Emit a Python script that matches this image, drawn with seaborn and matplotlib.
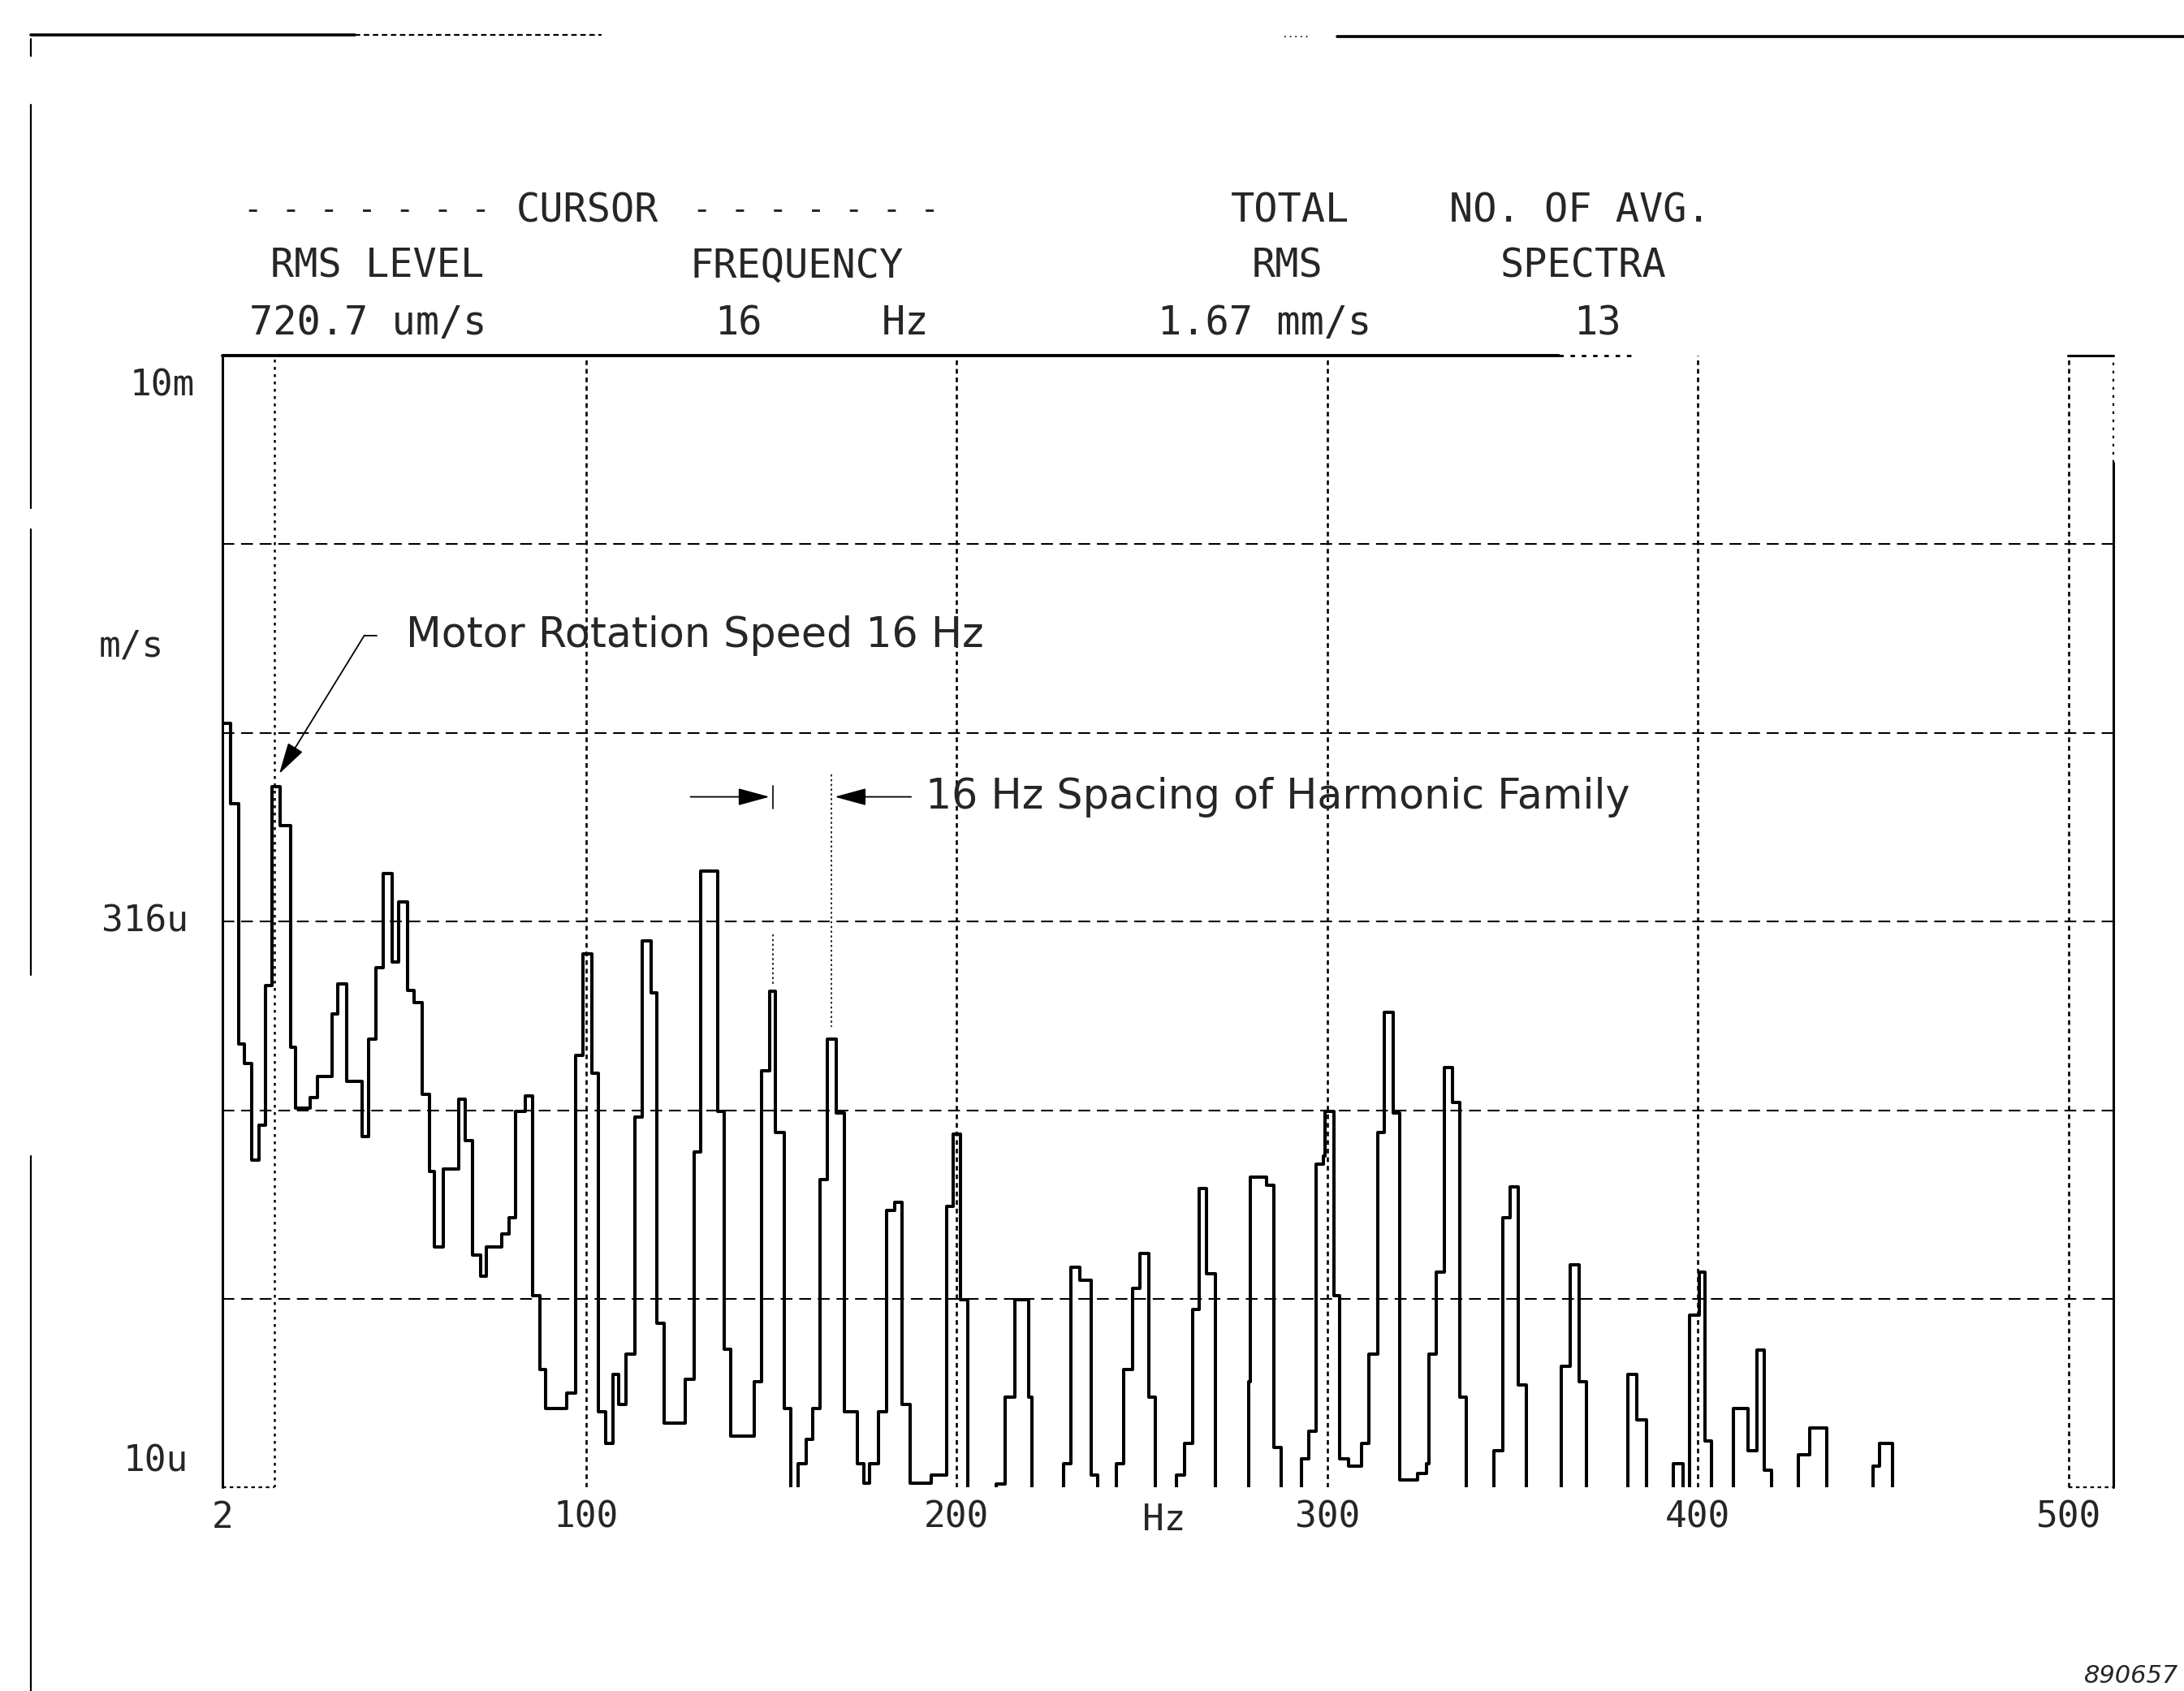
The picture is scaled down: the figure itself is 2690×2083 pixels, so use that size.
import matplotlib
matplotlib.use("Agg")
import matplotlib.pyplot as plt
import matplotlib.transforms as mtransforms
from matplotlib.lines import Line2D
from matplotlib import font_manager
import numpy as np
import pandas as pd
import seaborn as sns

# ---------------- data ----------------
freq_hz = [2.0, 4.1, 6.2, 7.8, 9.8, 11.7, 13.4, 15.3, 17.5, 20.2, 21.7, 25.6, 27.5, 31.4,
           33.1, 35.5, 39.6, 41.3, 43.3, 45.2, 47.7, 49.4, 51.8, 53.7, 55.7, 57.7, 59.1,
           61.4, 65.6, 67.3, 69.3, 71.5, 73.2, 77.3, 79.2, 81.0, 83.6, 85.5, 87.5, 89.1,
           94.8, 97.2, 99.1, 101.6, 103.3, 105.4, 107.2, 108.8, 110.8, 113.2, 115.2, 117.6,
           119.2, 121.0, 126.8, 129.2, 130.9, 135.6, 137.3, 139.0, 145.3, 147.3, 149.5,
           151.0, 153.4, 155.3, 157.3, 159.3, 161.2, 163.2, 165.0, 167.6, 169.8, 173.2,
           174.9, 176.4, 178.9, 181.0, 183.3, 185.2, 187.5, 193.1, 197.3, 199.0, 201.0,
           202.9, 210.7, 213.1, 215.6, 219.5, 220.2, 228.8, 230.8, 233.2, 236.2, 238.1,
           243.0, 245.0, 247.4, 249.4, 251.8, 253.5, 259.2, 261.6, 263.6, 265.5, 267.5,
           269.9, 278.7, 279.2, 283.7, 285.6, 287.6, 293.1, 295.0, 297.0, 298.9, 299.4,
           301.7, 303.3, 305.8, 309.2, 311.2, 313.6, 315.4, 317.7, 319.5, 324.4, 326.8,
           327.5, 329.3, 331.7, 333.7, 335.7, 337.6, 345.0, 347.4, 349.4, 351.6, 353.8,
           363.1, 365.5, 368.0, 369.9, 381.2, 383.6, 386.1, 393.4, 395.9, 397.8, 400.3,
           401.9, 403.7, 409.6, 413.5, 416.0, 417.9, 419.9, 427.2, 430.2, 434.8, 447.3,
           449.1, 452.5]

# 9.0e-6 marks levels below the 10u display floor
level_ms = [1.06e-3, 6.47e-4, 1.50e-4, 1.33e-4, 7.38e-5, 9.14e-5, 2.14e-4, 7.21e-4, 5.66e-4,
            1.47e-4, 1.01e-4, 1.08e-4, 1.23e-4, 1.80e-4, 2.16e-4, 1.19e-4, 8.51e-5, 1.54e-4,
            2.39e-4, 4.23e-4, 2.47e-4, 3.57e-4, 2.08e-4, 1.93e-4, 1.10e-4, 6.87e-5, 4.35e-5,
            6.98e-5, 1.07e-4, 8.32e-5, 4.14e-5, 3.63e-5, 4.35e-5, 4.71e-5, 5.18e-5, 9.95e-5,
            1.09e-4, 3.22e-5, 2.06e-5, 1.62e-5, 1.78e-5, 1.40e-4, 2.59e-4, 1.25e-4, 1.59e-5,
            1.31e-5, 2.00e-5, 1.66e-5, 2.26e-5, 9.57e-5, 2.81e-4, 2.05e-4, 2.73e-5, 1.48e-5,
            1.94e-5, 7.74e-5, 4.30e-4, 9.95e-5, 2.33e-5, 1.37e-5, 1.91e-5, 1.27e-4, 2.07e-4,
            8.71e-5, 1.62e-5, 9.0e-6, 1.16e-5, 1.34e-5, 1.62e-5, 6.56e-5, 1.54e-4, 9.82e-5,
            1.59e-5, 1.16e-5, 1.03e-5, 1.16e-5, 1.59e-5, 5.43e-5, 5.69e-5, 1.66e-5, 1.03e-5,
            1.08e-5, 5.56e-5, 8.63e-5, 3.15e-5, 9.0e-6, 1.02e-5, 1.74e-5, 3.15e-5, 1.74e-5,
            9.0e-6, 1.16e-5, 3.84e-5, 3.54e-5, 1.08e-5, 9.0e-6, 1.16e-5, 2.06e-5, 3.38e-5,
            4.18e-5, 1.74e-5, 9.0e-6, 1.08e-5, 1.31e-5, 2.96e-5, 6.19e-5, 3.68e-5, 9.0e-6,
            1.91e-5, 6.65e-5, 6.31e-5, 1.28e-5, 9.0e-6, 1.19e-5, 1.41e-5, 7.21e-5, 7.57e-5,
            9.95e-5, 3.22e-5, 1.19e-5, 1.14e-5, 1.31e-5, 2.26e-5, 8.71e-5, 1.82e-4, 9.82e-5,
            1.05e-5, 1.09e-5, 1.16e-5, 2.26e-5, 3.72e-5, 1.30e-4, 1.05e-4, 1.74e-5, 9.0e-6,
            1.25e-5, 5.18e-5, 6.25e-5, 1.87e-5, 9.0e-6, 2.10e-5, 3.90e-5, 1.91e-5, 9.0e-6,
            2.00e-5, 1.51e-5, 9.0e-6, 1.16e-5, 9.0e-6, 2.86e-5, 3.72e-5, 1.33e-5, 9.0e-6,
            1.62e-5, 1.25e-5, 2.31e-5, 1.11e-5, 9.0e-6, 1.22e-5, 1.44e-5, 9.0e-6, 1.14e-5,
            1.31e-5, 9.0e-6]

grid_levels = [10 ** -2.5, 1e-3, 10 ** -3.5, 1e-4, 10 ** -4.5]
grid_freqs = [100, 200, 300, 400, 500]
x_ticks = [2, 100, 200, 300, 400, 500]
x_tick_labels = ["2", "100", "200", "300", "400", "500"]
y_label_texts = ["10m", "m/s", "316u", "10u"]
y_label_levels = [10 ** -2.08, 10 ** -2.77, 10 ** -3.5, 10 ** -4.93]
cursor_hz = 16
harmonic_a_hz = 150.5
harmonic_b_hz = 166.1

header_rows = [
    [("CURSOR", 422), ("TOTAL", 926), ("NO. OF AVG.", 1134)],
    [("RMS LEVEL", 271), ("FREQUENCY", 572), ("RMS", 924), ("SPECTRA", 1137)],
    [("720.7 um/s", 264), ("16", 530), ("Hz", 650), ("1.67 mm/s", 908), ("13", 1147)],
]
header_y = [151, 191, 232]

assert len(freq_hz) == len(level_ms)

# ---------------- style ----------------
sns.set_theme(style="white")
avail = {f.name for f in font_manager.fontManager.ttflist}
if "Liberation Sans Narrow" in avail:
    PLOT_FONT, HDR_FS, TICK_FS = "Liberation Sans Narrow", 42, 38
else:
    PLOT_FONT, HDR_FS, TICK_FS = "DejaVu Sans Mono", 35, 32
plt.rcParams["font.family"] = ["DejaVu Sans"]

W, H = 1568.0, 1214.0


def fx(px):
    return px / W


def fy(py):
    return 1 - py / H


fig = plt.figure(figsize=(26.9, 20.83), dpi=100)
fig.patch.set_facecolor("white")
ax = fig.add_axes([fx(160), fy(1068), fx(1517) - fx(160), fy(255) - fy(1068)])
ax.set_facecolor("white")

df = pd.DataFrame({"freq": freq_hz, "level": level_ms})
sns.lineplot(data=df, x="freq", y="level", ax=ax, drawstyle="steps-post", color="black",
             lw=2.9, estimator=None, sort=False, legend=False)

ax.set_yscale("log")
ax.set_ylim(1e-5, 1e-2)
ax.set_xlim(2, 512)
ax.set_xlabel("")
ax.set_ylabel("")
ax.grid(False)
for s in ax.spines.values():
    s.set_visible(False)

# grid
for g in grid_levels:
    ax.axhline(g, color="black", lw=1.5, dashes=(7, 4), zorder=1)
for g in grid_freqs:
    ax.axvline(g, color="black", lw=1.9, dashes=(2.2, 1.8), zorder=1)
ax.axvline(cursor_hz, color="black", lw=1.8, dashes=(1.4, 2.2), zorder=1)

# frame pieces
ta = ax.transAxes
ax.plot([0, 0], [0, 1], transform=ta, color="black", lw=2.2, clip_on=False)
ax.plot([0, 0.707], [1, 1], transform=ta, color="black", lw=2.8, clip_on=False)
ax.plot([0.707, 0.745], [1, 1], transform=ta, color="black", lw=2.0, dashes=(2, 3), clip_on=False)
ax.plot([0.976, 1], [1, 1], transform=ta, color="black", lw=2.2, clip_on=False)
ax.plot([1, 1], [0, 0.905], transform=ta, color="black", lw=2.2, clip_on=False)
ax.plot([1, 1], [0.905, 1], transform=ta, color="black", lw=1.6, dashes=(1.5, 3), clip_on=False)
bt = mtransforms.blended_transform_factory(ax.transData, ax.transAxes)
ax.plot([2, cursor_hz], [0, 0], transform=bt, color="black", lw=1.6, dashes=(2, 2), clip_on=False)
ax.plot([500, 512], [0, 0], transform=bt, color="black", lw=1.6, dashes=(2, 2), clip_on=False)

# x ticks
ax.set_xticks(x_ticks)
ax.set_xticklabels(x_tick_labels)
ax.tick_params(axis="x", length=0, pad=11, labelsize=TICK_FS)
for lab in ax.get_xticklabels():
    lab.set_fontfamily(PLOT_FONT)
ax.set_yticks([])
ax.yaxis.set_minor_locator(matplotlib.ticker.NullLocator())
ax.text(256, -0.029, "Hz", transform=bt, ha="center", va="center",
        fontsize=TICK_FS, family=PLOT_FONT)

# y labels
yt = mtransforms.blended_transform_factory(ax.transAxes, ax.transData)
y_label_x = [-0.0147, -0.031, -0.0184, -0.0184]
for txt, lv, xx in zip(y_label_texts, y_label_levels, y_label_x):
    ax.text(xx, lv, txt, transform=yt, ha="right", va="center", fontsize=TICK_FS,
            family=PLOT_FONT)

# header
for row, yy in zip(header_rows, header_y):
    for txt, xx in row:
        fig.text(fx(xx), fy(yy), txt, ha="center", va="center", fontsize=HDR_FS,
                 family=PLOT_FONT)
fig.text(fx(352), fy(header_y[0]), "- - - - - - -", ha="right", va="center",
         fontsize=HDR_FS * 0.8, family=PLOT_FONT)
fig.text(fx(497), fy(header_y[0]), "- - - - - - -", ha="left", va="center",
         fontsize=HDR_FS * 0.8, family=PLOT_FONT)

# annotations
ann_fs = 36.5
ax.text(51.5, 10 ** -2.742, "Motor Rotation Speed 16 Hz", ha="left", va="center",
        fontsize=ann_fs, family="DejaVu Sans")
ax.plot([40.2, 43.5], [10 ** -2.742, 10 ** -2.742], color="black", lw=1.3)
ax.annotate("", xy=(17.2, 10 ** -3.109), xytext=(40.2, 10 ** -2.742),
            arrowprops=dict(arrowstyle="-|>,head_length=1.1,head_width=0.3", color="black",
                            lw=1.3, shrinkA=0, shrinkB=0, mutation_scale=22))

arr_y = 10 ** -3.170
ax.annotate("", xy=(harmonic_a_hz - 1.0, arr_y), xytext=(128.2, arr_y),
            arrowprops=dict(arrowstyle="-|>,head_length=1.1,head_width=0.3", color="black",
                            lw=1.3, shrinkA=0, shrinkB=0, mutation_scale=22))
ax.annotate("", xy=(harmonic_b_hz + 1.0, arr_y), xytext=(187.7, arr_y),
            arrowprops=dict(arrowstyle="-|>,head_length=1.1,head_width=0.3", color="black",
                            lw=1.3, shrinkA=0, shrinkB=0, mutation_scale=22))
ax.plot([harmonic_a_hz, harmonic_a_hz], [10 ** -3.14, 10 ** -3.20], color="black", lw=1.2)
ax.plot([harmonic_a_hz, harmonic_a_hz], [10 ** -3.535, 10 ** -3.668], color="black", lw=1.2,
        dashes=(1.5, 2))
ax.plot([harmonic_b_hz, harmonic_b_hz], [10 ** -3.11, 10 ** -3.78], color="black", lw=1.2,
        dashes=(1.5, 2))
ax.text(191.5, arr_y, "16 Hz Spacing of Harmonic Family", ha="left", va="center",
        fontsize=ann_fs, family="DejaVu Sans")

# page border (scan frame)
def fline(x0, y0, x1, y1, **kw):
    fig.add_artist(Line2D([fx(x0), fx(x1)], [fy(y0), fy(y1)], transform=fig.transFigure,
                          color="black", **kw))

fline(22, 25, 255, 25, lw=2.6)
fline(255, 25, 432, 25, lw=1.6, dashes=(3, 2))
fline(960, 26, 1568, 26, lw=2.6)
fline(922, 26, 940, 26, lw=1.2, dashes=(1, 3))
for y0, y1 in [(28, 40), (75, 365), (380, 700), (830, 1214)]:
    fline(22, y0, 22, y1, lw=1.6)

fig.text(fx(1564), fy(1203), "890657", ha="right", va="center", fontsize=22,
         style="italic", family="DejaVu Sans")

fig.savefig("out.png", dpi=100, facecolor="white")
